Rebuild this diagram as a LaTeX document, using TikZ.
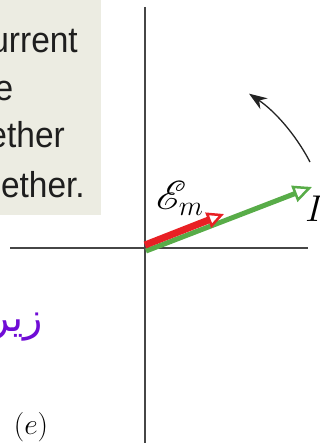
\documentclass[tikz,border=0pt]{standalone}
\usepackage{fontspec}
\usepackage{mathrsfs}
\usetikzlibrary{arrows.meta}
\TeXXeTstate=1
\newfontfamily\boxfont[FakeStretch=0.93]{Liberation Sans}
\newfontfamily\arabicfont[Script=Arabic]{DejaVu Sans}
\definecolor{boxbg}{RGB}{236,236,226}
\definecolor{textdark}{RGB}{30,30,30}
\definecolor{axisgray}{RGB}{70,70,70}
\definecolor{vgreen}{RGB}{88,172,72}
\definecolor{vred}{RGB}{232,32,36}
\definecolor{arpurple}{RGB}{112,12,214}
\definecolor{rotblack}{RGB}{35,35,35}
\tikzset{
  boxtext/.style={font=\boxfont\fontsize{36}{40}\selectfont, text=textdark, inner sep=0pt, anchor=base east},
  axisline/.style={draw=axisgray, line width=2pt},
  greenvec/.style={draw=vgreen, line width=5pt, -{Triangle[open, fill=white, length=19pt, width=17pt, line width=2.5pt]}},
  redvec/.style={draw=vred, line width=7pt, -{Triangle[open, fill=white, length=17pt, width=16pt, line width=2.5pt]}},
  rotarrow/.style={draw=rotblack, line width=1.3pt, -{Stealth[length=18pt, width=13pt]}},
  mathlabel/.style={inner sep=0pt, font=\fontsize{20}{24}\selectfont}
}
\begin{document}
\begin{tikzpicture}[x=1pt,y=-1pt]
\useasboundingbox (0,0) rectangle (320,443);
\clip (0,0) rectangle (320,443);
% text box
\fill[boxbg] (0,0) rectangle (101,215);
\node[boxtext] (l1) at (78,53) {urrent};
\node[boxtext] (l2) at (13.5,101) {e};
\node[boxtext] (l3) at (65,148) {ether};
\node[boxtext] (l4) at (85,197) {ether.};
% axes
\coordinate (O) at (145,248);
\coordinate (vtop) at (145,7);
\coordinate (vbot) at (145,443);
\coordinate (hleft) at (10,248);
\coordinate (hright) at (308,248);
\draw[axisline] (vtop) -- (vbot);
\draw[axisline] (hleft) -- (hright);
% vectors
\coordinate (gs) at (146,251);
\coordinate (ge) at (312,187);
\coordinate (rs) at (145,245);
\coordinate (re) at (224,214);
\draw[greenvec] (gs) -- (ge);
\draw[redvec] (rs) -- (re);
% rotation arrow
\coordinate (arcstart) at (310,162);
\draw[rotarrow] (arcstart) arc[start angle=-27.5, end angle=-56, radius=186];
% labels
\node[mathlabel, scale=1.95] (Em) at (180,198) {$\mathscr{E}_m$};
\node[mathlabel, anchor=base west, scale=1.8] (Ilab) at (305,221) {$I$};
\node[mathlabel, scale=1.42] (elab) at (31,427) {$(e)$};
\node[inner sep=0pt, anchor=base east, text=arpurple, font=\fontsize{40}{44}\selectfont] (ar) at (43,331) {\arabicfont\beginR زير\endR};
\end{tikzpicture}
\end{document}
